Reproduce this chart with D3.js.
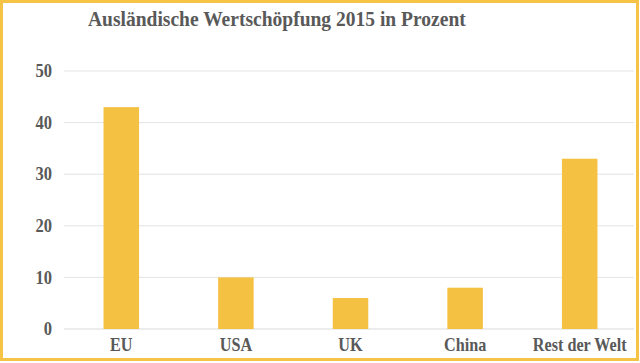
<!DOCTYPE html>
<html><head><meta charset="utf-8">
<script src="https://cdn.jsdelivr.net/npm/d3@7"></script>
<style>html,body{margin:0;padding:0;background:#fff;}svg{display:block;}</style>
</head><body>
<script>
const categories = ["EU", "USA", "UK", "China", "Rest der Welt"];
const values = [43, 10, 6, 8, 33];
const yTicks = [0, 10, 20, 30, 40, 50];
const title = "Ausländische Wertschöpfung 2015 in Prozent";

const W = 640, H = 363;
const svg = d3.select("body").append("svg").attr("width", W).attr("height", H);
svg.append("rect").attr("x", 0).attr("y", 0).attr("width", W).attr("height", H).attr("fill", "#fff");
svg.append("rect").attr("x", 1.5).attr("y", 1.5).attr("width", 636).attr("height", 358)
  .attr("fill", "none").attr("stroke", "#F5C447").attr("stroke-width", 3);

const x = d3.scaleBand().domain(categories).range([64, 637]).paddingInner(0.69).paddingOuter(0.345);
const y = d3.scaleLinear().domain([0, 50]).range([329, 71]);

const font = "'Liberation Serif','Times New Roman',serif";
const grey = "#595959";

svg.append("g").selectAll("line").data(yTicks).join("line")
  .attr("x1", 64).attr("x2", 634).attr("y1", d => y(d)).attr("y2", d => y(d))
  .attr("stroke", d => d === 0 ? "#d9d9d9" : "#e3e3e3").attr("stroke-width", 1);

const yAxis = d3.axisLeft(y).tickValues(yTicks).tickSize(0).tickPadding(0);
const gy = svg.append("g").attr("transform", "translate(52,0)").call(yAxis);
gy.select(".domain").remove();
gy.selectAll("text").attr("font-family", font).attr("font-weight", "bold").attr("font-size", 18)
  .attr("fill", grey).attr("transform", "scale(0.92,1)");

svg.append("g").selectAll("rect").data(values).join("rect")
  .attr("x", (d, i) => x(categories[i])).attr("width", x.bandwidth())
  .attr("y", d => y(d)).attr("height", d => y(0) - y(d)).attr("fill", "#F4C142");

const xAxis = d3.axisBottom(x).tickSize(0).tickPadding(0);
const gx = svg.append("g").attr("transform", "translate(0,329)").call(xAxis);
gx.select(".domain").remove();
gx.selectAll("text").attr("font-family", font).attr("font-weight", "bold").attr("font-size", 18)
  .attr("fill", grey).attr("dy", null).attr("y", 22).attr("transform", "scale(0.9,1)");

svg.append("text").attr("transform", "translate(88,26) scale(0.93,1)").text(title)
  .attr("font-family", font).attr("font-weight", "bold").attr("font-size", 21).attr("fill", grey);
</script>
</body></html>
